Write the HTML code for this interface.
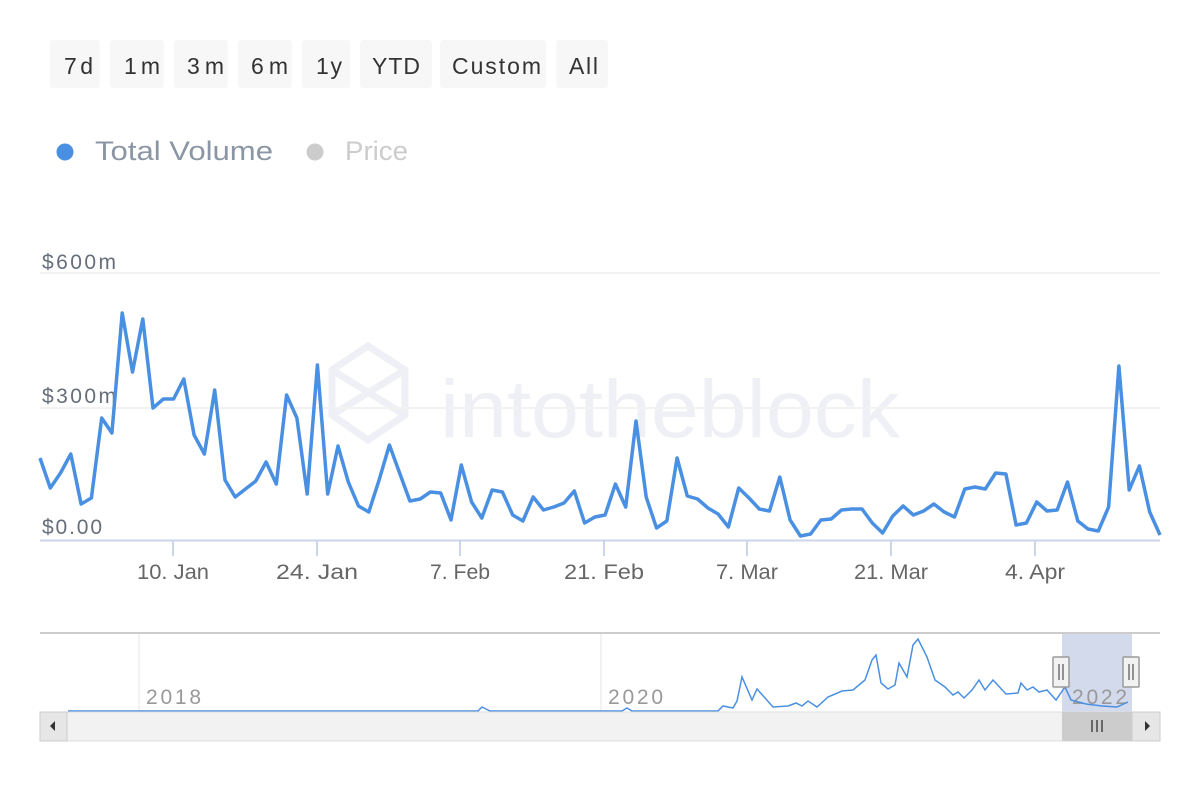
<!DOCTYPE html>
<html><head><meta charset="utf-8"><style>
body{margin:0;width:1200px;height:800px;background:#fff;overflow:hidden;font-family:"Liberation Sans",sans-serif}
</style></head><body>
<svg id="s" width="1200" height="800" xmlns="http://www.w3.org/2000/svg" font-family="Liberation Sans, sans-serif">
<g fill="#f7f7f7">
<rect x="50" y="40" width="50" height="48" rx="3"/>
<rect x="110" y="40" width="54" height="48" rx="3"/>
<rect x="174" y="40" width="54" height="48" rx="3"/>
<rect x="238" y="40" width="54" height="48" rx="3"/>
<rect x="302" y="40" width="48" height="48" rx="3"/>
<rect x="360" y="40" width="72" height="48" rx="3"/>
<rect x="440" y="40" width="106" height="48" rx="3"/>
<rect x="556" y="40" width="52" height="48" rx="3"/>
</g>
<g fill="#333" font-size="23" lengthAdjust="spacingAndGlyphs">
<text x="64" y="74" textLength="29">7d</text><text x="124" y="74" textLength="36">1m</text><text x="187" y="74" textLength="37">3m</text>
<text x="251" y="74" textLength="37">6m</text><text x="316" y="74" textLength="26">1y</text><text x="372" y="74" textLength="48">YTD</text>
<text x="452" y="74" textLength="89">Custom</text><text x="569" y="74" textLength="29">All</text>
</g>
<circle cx="65" cy="152" r="8.5" fill="#4a90e2"/>
<text x="95" y="160" font-size="27" fill="#8a96a3" textLength="178" lengthAdjust="spacingAndGlyphs">Total Volume</text>
<circle cx="315" cy="152" r="8.5" fill="#cccccc"/>
<text x="345" y="160" font-size="27" fill="#cccccc" textLength="63" lengthAdjust="spacingAndGlyphs">Price</text>
<!-- watermark -->
<g stroke="#eef0f5" stroke-width="7" fill="none">
<path d="M368 346 L405 370 L405 415 L368 440 L332 415 L332 370 Z"/>
<path d="M332 370 L405 415 M405 370 L332 415"/>
</g>
<text x="440" y="437" font-size="82" fill="#eef0f5" textLength="460" lengthAdjust="spacingAndGlyphs">intotheblock</text>
<line x1="40" y1="273" x2="1160" y2="273" stroke="#f2f2f2" stroke-width="2"/>
<line x1="40" y1="408" x2="1160" y2="408" stroke="#f2f2f2" stroke-width="2"/>
<line x1="40" y1="540.5" x2="1160" y2="540.5" stroke="#ccd6eb" stroke-width="2"/>
<g fill="#666e7a" font-size="21" lengthAdjust="spacingAndGlyphs">
<text x="42" y="269" textLength="74">$600m</text><text x="42" y="403" textLength="74">$300m</text><text x="42" y="534" textLength="60">$0.00</text>
</g>
<g id="ticks" stroke="#ccd6eb" stroke-width="2"></g>
<g fill="#666" font-size="21" text-anchor="middle" id="xl"></g>
<polyline id="main" fill="none" stroke="#4a90e2" stroke-width="3.5" stroke-linejoin="round"/>
<!-- navigator -->
<rect x="1062" y="634" width="70" height="78" fill="#cdd6ea" opacity="0.9"/>
<line x1="139" y1="634" x2="139" y2="712" stroke="#e6e6e6"/>
<line x1="601" y1="634" x2="601" y2="712" stroke="#e6e6e6"/>
<g fill="#999" font-size="21" lengthAdjust="spacingAndGlyphs"><text x="146" y="704" textLength="55">2018</text><text x="608" y="704" textLength="55">2020</text><text x="1072" y="704" textLength="55">2022</text></g>
<polyline id="nav" fill="none" stroke="#4a90e2" stroke-width="1.5"/>
<line x1="40" y1="633" x2="1160" y2="633" stroke="#ccc" stroke-width="2"/>
<rect x="40" y="712" width="1120" height="29" fill="#f2f2f2" stroke="#ddd"/>
<rect x="40" y="712" width="27" height="29" fill="#e6e6e6" stroke="#ccc"/>
<rect x="1132" y="712" width="28" height="29" fill="#e6e6e6" stroke="#ccc"/>
<rect x="1062" y="712" width="70" height="29" fill="#ccc"/>
<path d="M55 721 L50 726 L55 731 Z M1145 721 L1150 726 L1145 731 Z" fill="#333"/>
<g stroke="#333" stroke-width="1.3"><line x1="1092" y1="720" x2="1092" y2="732"/><line x1="1097" y1="720" x2="1097" y2="732"/><line x1="1102" y1="720" x2="1102" y2="732"/></g>
<g fill="#f2f2f2" stroke="#999" stroke-width="1.5">
<rect x="1053" y="657" width="16" height="30" rx="1"/><rect x="1123" y="657" width="16" height="30" rx="1"/></g>
<g stroke="#333" stroke-width="1"><line x1="1059" y1="664" x2="1059" y2="680"/><line x1="1063" y1="664" x2="1063" y2="680"/><line x1="1129" y1="664" x2="1129" y2="680"/><line x1="1133" y1="664" x2="1133" y2="680"/></g>
</svg>
<script>
var y=[458,488,473,454,504,498,418,433,313,372,319,408,399,399,379,435,454,390,480,497,489,481,462,484,395,418,494,365,494,446,482,506,512,480,445,473,501,499,492,493,520,465,502,518,490,492,515,521,497,510,507,503,491,523,517,515,484,507,421,497,528,521,458,496,499,508,514,527,488,498,509,511,477,520,536,534,520,519,510,509,509,523,533,516,506,515,511,504,512,517,489,487,489,473,474,525,523,502,511,510,482,521,529,531,507,366,490,466,512,535];
var p=[];for(var i=0;i<y.length;i++)p.push((40+i*10.275).toFixed(1)+","+y[i]);
document.getElementById("main").setAttribute("points",p.join(" "));
var n="68,711 478,711 482,707 486,709 490,711 622,711 627,708 632,711 718,711 723,706 733,708 737,701 742,677 752,700 757,689 773,707 788,706 796,703 802,706 808,701 817,707 828,697 842,691 853,690 865,680 872,660 876,655 881,683 888,689 895,685 899,663 907,677 913,645 918,639 927,657 935,680 945,687 953,695 958,692 964,698 972,690 979,680 985,690 993,680 1006,694 1018,693 1021,683 1027,690 1033,687 1039,692 1047,690 1056,700 1065,687 1071,700 1086,704 1102,706 1117,707 1128,702";
document.getElementById("nav").setAttribute("points",n);
var t=[[173,"10. Jan",72],[317,"24. Jan",82],[460,"7. Feb",60],[604,"21. Feb",80],[747,"7. Mar",62],[891,"21. Mar",74],[1035,"4. Apr",60]];
var NS="http://www.w3.org/2000/svg",tk=document.getElementById("ticks"),xl=document.getElementById("xl");
t.forEach(function(a){var l=document.createElementNS(NS,"line");l.setAttribute("x1",a[0]);l.setAttribute("x2",a[0]);l.setAttribute("y1",541);l.setAttribute("y2",556);tk.appendChild(l);
var s=document.createElementNS(NS,"text");s.setAttribute("x",a[0]);s.setAttribute("y",579);s.setAttribute("textLength",a[2]);s.setAttribute("lengthAdjust","spacingAndGlyphs");s.textContent=a[1];xl.appendChild(s);});
</script>
</body></html>
